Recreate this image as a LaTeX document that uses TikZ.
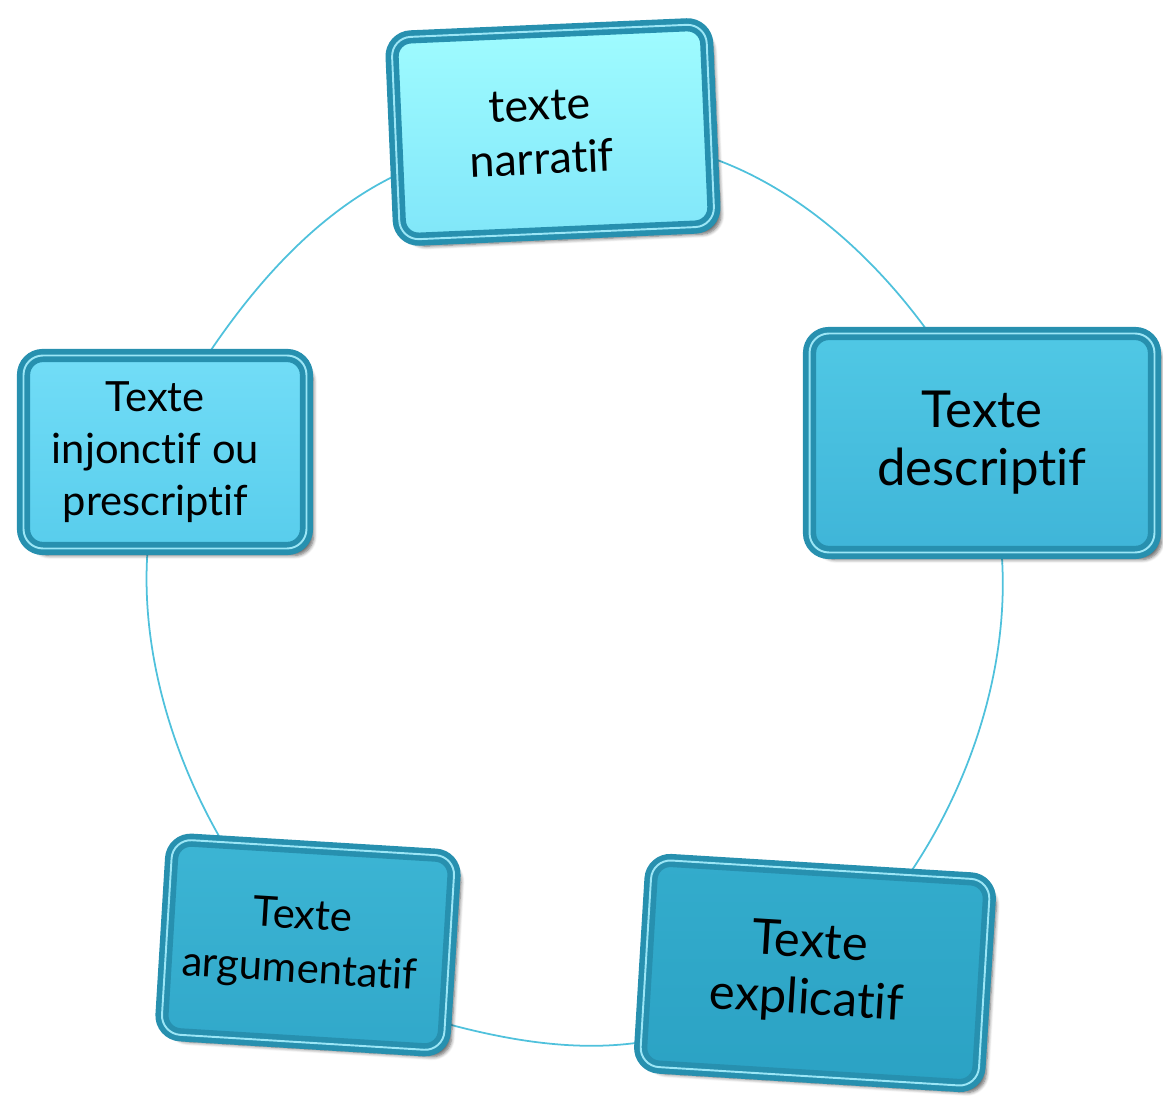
\documentclass[tikz,border=0pt]{standalone}
\usepackage{fontspec}
\setmainfont{Lato}[Ligatures={NoCommon}]
\usetikzlibrary{shadows.blur}
\definecolor{rim}{HTML}{2790AF}
\definecolor{rimhi}{HTML}{9BE6F6}
\definecolor{ringc}{HTML}{4FC1DC}
\definecolor{narrT}{HTML}{A0FCFF}\definecolor{narrB}{HTML}{80E6F9}
\definecolor{injT}{HTML}{72DDF7}\definecolor{injB}{HTML}{58CDEC}
\definecolor{descT}{HTML}{50C8E5}\definecolor{descB}{HTML}{3FB5D8}
\definecolor{argT}{HTML}{3CB5D4}\definecolor{argB}{HTML}{31A8CA}
\definecolor{explT}{HTML}{33ACCC}\definecolor{explB}{HTML}{2BA2C4}
\pgfdeclarelayer{bg}
\pgfsetlayers{bg,main}
\begin{document}
\begin{tikzpicture}[x=0.02cm,y=0.02cm,
  tbox/.style={rectangle, rounded corners=11pt, draw=rim, line width=3.2pt,
    double=rimhi, double distance=1.1pt, align=center, inner sep=0pt,
    blur shadow={shadow xshift=4pt, shadow yshift=-4pt, shadow blur steps=6, shadow opacity=60}},
  ring/.style={draw=ringc, line width=1pt, looseness=0.85}]
\useasboundingbox (0,0) rectangle (1163,1102);
\node[tbox, top color=narrT, bottom color=narrB, rotate=2.5,
  minimum width=6.3cm, minimum height=4.05cm,
  font=\fontsize{25.5}{30.6}\selectfont] (narr) at (553,970) {texte\kern14pt\\narratif\kern14pt};
\node[tbox, top color=descT, bottom color=descB,
  minimum width=6.9cm, minimum height=4.38cm,
  font=\fontsize{29}{33}\selectfont] (desc) at (982,659) {Texte\\descriptif};
\node[tbox, top color=explT, bottom color=explB, rotate=-3.5,
  minimum width=6.78cm, minimum height=4.14cm,
  font=\fontsize{27.8}{32.3}\selectfont] (expl) at (815,129) {Texte\kern8pt\\explicatif\kern8pt};
\node[tbox, top color=argT, bottom color=argB, rotate=-3.5,
  minimum width=5.66cm, minimum height=3.9cm,
  font=\fontsize{23.8}{30.6}\selectfont] (arg) at (308,157) {Texte\kern8pt\\argumentatif\kern8pt};
\node[tbox, top color=injT, bottom color=injB,
  minimum width=5.66cm, minimum height=3.86cm,
  font=\fontsize{23.7}{29.5}\selectfont] (inj) at (165,650) {Texte\kern11pt\\injonctif ou\kern11pt\\prescriptif\kern11pt};
\begin{pgfonlayer}{bg}
\draw[ring] (narr.193) to[out=206,in=56] (inj.66);
\draw[ring] (inj.260) to[out=266,in=120] (arg.133);
\draw[ring] (arg.334) to[out=345,in=188] (expl.205);
\draw[ring] (expl.50) to[out=56,in=274] (desc.280);
\draw[ring] (desc.116) to[out=126,in=340] (narr.348);
\end{pgfonlayer}
\end{tikzpicture}
\end{document}
